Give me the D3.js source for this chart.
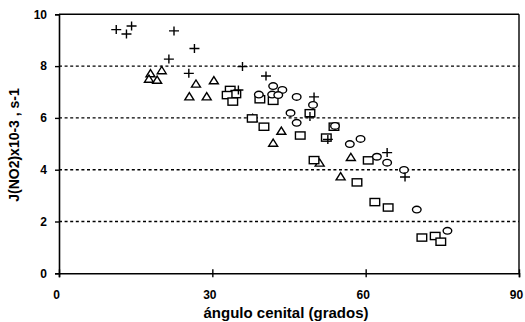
<!DOCTYPE html>
<html><head><meta charset="utf-8">
<script src="https://cdn.jsdelivr.net/npm/d3@7"></script>
<style>body{margin:0;background:#fff}svg{display:block}</style>
</head><body>
<svg id="c" width="525" height="322"></svg>
<script>
const xTicks = [0, 30, 60, 90];
const yTicks = [0, 2, 4, 6, 8, 10];
const gridValues = [2, 4, 6, 8];
const xTitle = "ángulo cenital (grados)";
const yTitle = "J(NO2)x10-3 , s-1";

const plusX = [11.2, 13.2, 14.2, 22.5, 26.5, 21.5, 25.4, 35.9, 40.5, 49.9, 35.1, 49.1, 52.6, 64.2, 67.7];
const plusY = [9.41, 9.24, 9.55, 9.36, 8.68, 8.27, 7.72, 7.98, 7.62, 6.81, 7.08, 6.05, 5.17, 4.66, 3.72];

const triX = [17.9, 20.1, 17.6, 19.2, 26.8, 30.3, 25.5, 28.9, 43.5, 41.9, 51.0, 57.1, 55.1, 37.9];
const triY = [7.71, 7.83, 7.50, 7.46, 7.31, 7.44, 6.82, 6.82, 5.49, 5.03, 4.26, 4.48, 3.73, 5.98];

const sqX = [33.5, 34.6, 32.9, 34.0, 39.3, 41.9, 37.8, 40.1, 47.2, 49.1, 52.3, 49.9, 60.5, 58.3, 61.8, 64.4, 71.0, 73.6, 74.7, 53.8];
const sqY = [7.08, 6.92, 6.88, 6.63, 6.72, 6.66, 5.98, 5.66, 5.32, 6.18, 5.24, 4.37, 4.36, 3.51, 2.75, 2.54, 1.38, 1.44, 1.22, 5.66];

const circX = [41.9, 43.7, 41.7, 42.9, 46.5, 49.7, 45.3, 46.5, 54.0, 56.9, 59.0, 62.2, 64.2, 67.5, 70.0, 76.0, 39.1];
const circY = [7.23, 7.08, 6.90, 6.88, 6.81, 6.50, 6.19, 5.81, 5.69, 4.99, 5.19, 4.50, 4.27, 3.99, 2.46, 1.64, 6.90];

const svg = d3.select("#c");
const x = d3.scaleLinear().domain([0, 90]).range([59, 519]);
const y = d3.scaleLinear().domain([0, 10]).range([273.3, 14.3]);
const font = "'Liberation Sans', Arial, sans-serif";

// grid
svg.append("g").selectAll("line").data(gridValues).join("line")
  .attr("x1", x(0)).attr("x2", x(90))
  .attr("y1", d => y(d)).attr("y2", d => y(d))
  .attr("stroke", "#000").attr("stroke-width", 1.4).attr("stroke-dasharray", "3,2.6");

// frame top & right
svg.append("line").attr("x1", x(0)).attr("x2", x(90)).attr("y1", y(10)).attr("y2", y(10))
  .attr("stroke", "#000").attr("stroke-width", 1.4);
svg.append("line").attr("x1", x(90)).attr("x2", x(90)).attr("y1", y(10)).attr("y2", y(0))
  .attr("stroke", "#000").attr("stroke-width", 1.4);

// axes
const gx = svg.append("g").attr("transform", `translate(0,${y(0)})`)
  .call(d3.axisBottom(x).tickValues(xTicks).tickSize(4).tickFormat(d3.format("d")));
gx.select(".domain").attr("stroke-width", 1.6);
gx.selectAll(".tick line").attr("stroke-width", 1.4).attr("y1", -4).attr("y2", 4);
gx.selectAll(".tick text").attr("dy", 0).attr("y", 26).attr("dx", -3)
  .style("font-family", font).style("font-weight", "bold").style("font-size", "12px").attr("fill", "#000");

const gy = svg.append("g").attr("transform", `translate(${x(0)},0)`)
  .call(d3.axisLeft(y).tickValues(yTicks).tickSize(4).tickFormat(d3.format("d")));
gy.select(".domain").attr("stroke-width", 1.6);
gy.selectAll(".tick line").attr("stroke-width", 1.4);
gy.selectAll(".tick text").attr("x", -12)
  .style("font-family", font).style("font-weight", "bold").style("font-size", "12px").attr("fill", "#000");

// markers
const mk = svg.append("g").attr("fill", "none").attr("stroke", "#000").attr("stroke-width", 1.4);
const tri = d3.range(triX.length).map(i => [triX[i], triY[i]]);
mk.selectAll("path.tri").data(tri).join("path").attr("class", "tri")
  .attr("d", d => { const cx = x(d[0]), cy = y(d[1]); return `M${cx-4.5},${cy+3.2}L${cx+4.5},${cy+3.2}L${cx},${cy-4}Z`; })
  .attr("fill", "#fff");
const sq = d3.range(sqX.length).map(i => [sqX[i], sqY[i]]);
mk.selectAll("rect").data(sq).join("rect")
  .attr("x", d => x(d[0]) - 4.8).attr("y", d => y(d[1]) - 3.6)
  .attr("width", 9.6).attr("height", 7.2).attr("fill", "#fff");
const ci = d3.range(circX.length).map(i => [circX[i], circY[i]]);
mk.selectAll("ellipse").data(ci).join("ellipse")
  .attr("cx", d => x(d[0])).attr("cy", d => y(d[1]))
  .attr("rx", 4.3).attr("ry", 3.3).attr("fill", "#fff");
const pl = d3.range(plusX.length).map(i => [plusX[i], plusY[i]]);
mk.selectAll("path.plus").data(pl).join("path").attr("class", "plus")
  .attr("d", d => { const cx = x(d[0]), cy = y(d[1]); return `M${cx-5},${cy}H${cx+5}M${cx},${cy-4.5}V${cy+4.5}`; });

// titles
svg.append("text").attr("x", 286).attr("y", 318).attr("text-anchor", "middle")
  .style("font-family", font).style("font-weight", "bold").style("font-size", "15px").text(xTitle);
svg.append("text").attr("transform", "translate(19,145) rotate(-90)").attr("text-anchor", "middle")
  .style("font-family", font).style("font-weight", "bold").style("font-size", "14px").text(yTitle);
</script>
</body></html>
